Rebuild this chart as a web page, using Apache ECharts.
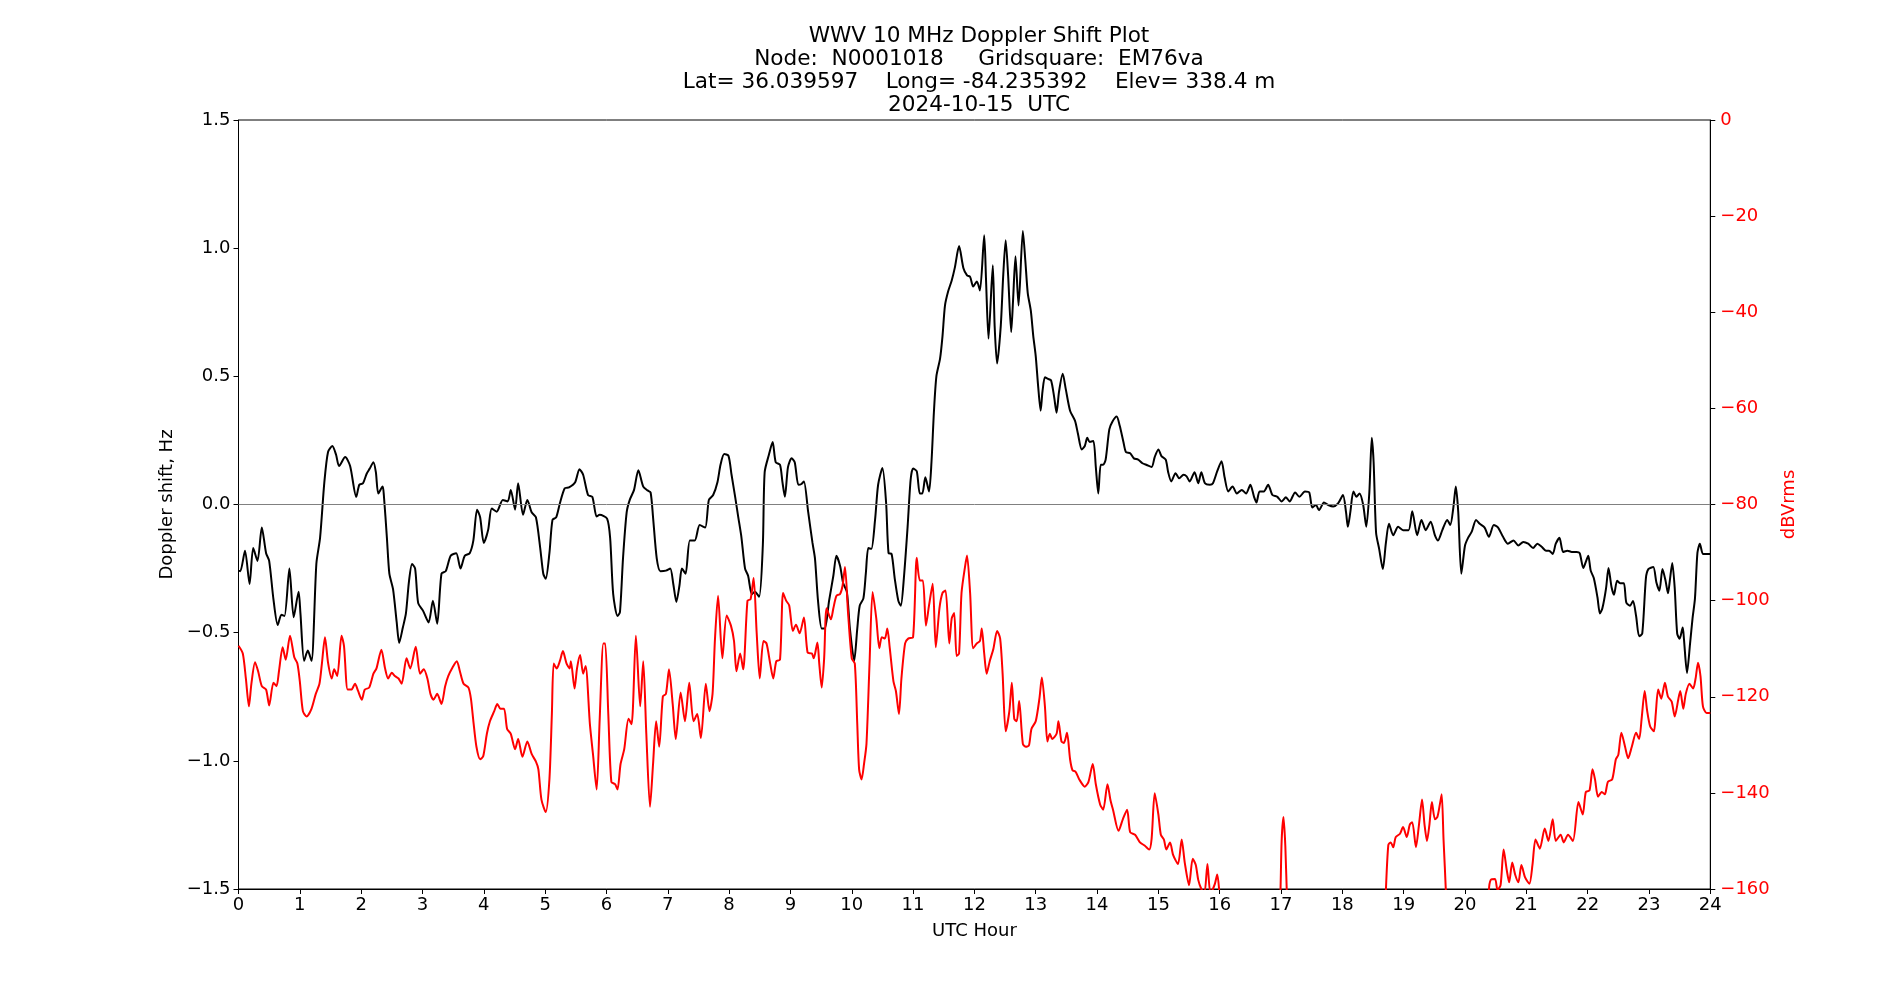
<!DOCTYPE html>
<html>
<head>
<meta charset="utf-8">
<title>WWV 10 MHz Doppler Shift Plot</title>
<script src="https://cdn.jsdelivr.net/npm/echarts@6/dist/echarts.min.js"></script>
<style>
  html, body { margin: 0; padding: 0; background: #fff; }
  #main { width: 1900px; height: 1000px; }
</style>
</head>
<body>
<div id="main"></div>
<script>
// Doppler shift (Hz)
var dopplerHours = [
  0.00,0.03,0.106,0.18,0.24,0.31,0.38,0.45,0.50,0.57,0.64,0.70,0.75,0.83,0.90,0.98,1.01,1.07,1.13,1.19,
  1.27,1.33,1.40,1.46,1.53,1.59,1.64,1.74,1.82,1.92,1.97,2.03,2.09,2.14,2.20,2.24,2.28,2.35,2.37,2.42,
  2.46,2.52,2.58,2.62,2.68,2.73,2.78,2.83,2.88,2.93,3.01,3.10,3.17,3.24,3.31,3.38,3.46,3.55,3.62,3.69,
  3.77,3.83,3.89,3.94,4.00,4.07,4.13,4.21,4.31,4.39,4.44,4.51,4.56,4.64,4.71,4.78,4.85,4.92,4.97,5.01,
  5.07,5.12,5.18,5.24,5.32,5.39,5.49,5.56,5.62,5.70,5.77,5.84,5.89,6.01,6.06,6.11,6.18,6.22,6.27,6.33,
  6.38,6.45,6.52,6.60,6.67,6.72,6.76,6.82,6.88,6.97,7.04,7.09,7.14,7.19,7.23,7.29,7.36,7.44,7.52,7.61,
  7.67,7.74,7.81,7.86,7.92,7.99,8.04,8.10,8.15,8.20,8.26,8.31,8.37,8.42,8.49,8.55,8.58,8.65,8.71,8.76,
  8.83,8.87,8.91,8.96,9.02,9.07,9.13,9.18,9.22,9.29,9.36,9.40,9.45,9.51,9.56,9.63,9.70,9.75,9.81,9.86,
  9.92,9.97,10.04,10.09,10.13,10.19,10.23,10.27,10.32,10.38,10.43,10.50,10.56,10.60,10.65,10.70,10.76,10.80,10.85,10.91,
  10.96,11.00,11.06,11.11,11.15,11.20,11.26,11.30,11.34,11.38,11.44,11.48,11.52,11.57,11.63,11.68,11.75,11.82,11.88,11.93,
  11.98,12.04,12.09,12.16,12.19,12.23,12.30,12.33,12.37,12.43,12.47,12.51,12.55,12.60,12.63,12.67,12.72,12.79,12.83,12.87,
  12.92,12.96,13.00,13.04,13.08,13.11,13.15,13.20,13.25,13.30,13.34,13.38,13.44,13.49,13.56,13.64,13.69,13.75,13.80,13.84,
  13.88,13.94,13.98,14.02,14.06,14.10,14.14,14.20,14.25,14.32,14.37,14.43,14.47,14.54,14.60,14.67,14.74,14.81,14.89,14.94,
  15.00,15.05,15.12,15.16,15.21,15.28,15.34,15.41,15.46,15.51,15.59,15.65,15.70,15.76,15.84,15.89,15.96,16.03,16.08,16.14,
  16.21,16.28,16.36,16.43,16.50,16.56,16.60,16.65,16.72,16.79,16.86,16.94,17.01,17.08,17.14,17.23,17.30,17.39,17.46,17.51,
  17.57,17.62,17.70,17.77,17.85,17.93,18.01,18.06,18.09,18.13,18.18,18.23,18.28,18.34,18.39,18.44,18.48,18.51,18.55,18.60,
  18.66,18.71,18.76,18.83,18.91,18.99,19.08,19.14,19.22,19.29,19.36,19.44,19.51,19.56,19.63,19.71,19.76,19.81,19.85,19.89,
  19.94,20.00,20.05,20.11,20.18,20.24,20.32,20.39,20.47,20.54,20.62,20.70,20.79,20.87,20.95,21.03,21.11,21.18,21.25,21.32,
  21.37,21.43,21.48,21.54,21.60,21.67,21.74,21.82,21.87,21.93,21.97,22.01,22.05,22.10,22.16,22.20,22.24,22.30,22.34,22.39,
  22.43,22.48,22.53,22.59,22.63,22.69,22.74,22.79,22.84,22.89,22.95,22.99,23.07,23.12,23.17,23.22,23.27,23.31,23.34,23.38,
  23.42,23.46,23.50,23.55,23.57,23.62,23.67,23.71,23.75,23.79,23.83,23.88,23.94,24.00
];
var dopplerHz = [
  -0.258,-0.26,-0.18,-0.31,-0.17,-0.22,-0.09,-0.19,-0.22,-0.37,-0.47,-0.43,-0.435,-0.25,-0.44,-0.34,-0.425,-0.61,-0.57,-0.61,
  -0.23,-0.13,0.087,0.205,0.228,0.195,0.15,0.185,0.15,0.03,0.077,0.083,0.12,0.14,0.165,0.126,0.043,0.07,0.037,-0.13,
  -0.27,-0.33,-0.46,-0.54,-0.48,-0.425,-0.30,-0.232,-0.25,-0.385,-0.415,-0.46,-0.375,-0.465,-0.27,-0.26,-0.2,-0.19,-0.25,-0.2,
  -0.19,-0.14,-0.02,-0.05,-0.15,-0.10,-0.016,-0.028,0.018,0.012,0.057,-0.02,0.083,-0.04,0.018,-0.03,-0.05,-0.17,-0.27,-0.29,
  -0.19,-0.06,-0.05,0.004,0.063,0.067,0.087,0.138,0.116,0.037,0.03,-0.047,-0.04,-0.055,-0.13,-0.35,-0.435,-0.42,-0.21,-0.03,
  0.018,0.057,0.134,0.07,0.055,0.047,-0.05,-0.21,-0.26,-0.258,-0.25,-0.31,-0.38,-0.317,-0.25,-0.27,-0.14,-0.14,-0.08,-0.09,
  0.018,0.037,0.087,0.155,0.197,0.19,0.116,0.028,-0.05,-0.126,-0.25,-0.278,-0.35,-0.34,-0.36,-0.16,0.126,0.195,0.244,0.165,
  0.155,0.087,0.03,0.146,0.18,0.165,0.077,0.08,0.09,-0.03,-0.15,-0.21,-0.376,-0.484,-0.484,-0.376,-0.278,-0.2,-0.24,-0.307,
  -0.34,-0.484,-0.61,-0.484,-0.395,-0.366,-0.268,-0.17,-0.173,-0.06,0.077,0.142,0.008,-0.19,-0.193,-0.287,-0.376,-0.395,-0.287,-0.09,
  0.096,0.14,0.13,0.043,0.043,0.106,0.051,0.165,0.362,0.5,0.569,0.657,0.776,0.83,0.874,0.923,1.008,0.923,0.894,0.888,
  0.85,0.87,0.835,1.05,0.874,0.647,0.933,0.697,0.55,0.697,0.894,1.031,0.894,0.673,0.795,0.968,0.776,1.067,0.953,0.825,
  0.756,0.657,0.579,0.46,0.366,0.44,0.496,0.49,0.484,0.42,0.358,0.44,0.51,0.45,0.366,0.327,0.274,0.215,0.228,0.26,
  0.244,0.248,0.146,0.043,0.155,0.155,0.175,0.293,0.323,0.343,0.307,0.244,0.205,0.2,0.18,0.175,0.161,0.154,0.146,0.185,
  0.215,0.189,0.175,0.126,0.09,0.122,0.102,0.116,0.11,0.09,0.126,0.083,0.126,0.083,0.077,0.083,0.13,0.169,0.106,0.051,
  0.07,0.043,0.057,0.043,0.077,0.03,0.008,0.051,0.051,0.077,0.037,0.03,0.012,0.028,0.012,0.047,0.03,0.051,0.047,-0.012,
  -0.002,-0.022,0.008,-0.002,-0.008,0.004,0.037,-0.03,-0.087,-0.03,0.051,0.03,0.043,-0.002,-0.087,0.047,0.26,0.165,-0.11,-0.173,
  -0.252,-0.15,-0.075,-0.12,-0.087,-0.1,-0.1,-0.026,-0.12,-0.06,-0.1,-0.067,-0.12,-0.14,-0.1,-0.06,-0.08,-0.012,0.07,-0.03,
  -0.27,-0.16,-0.13,-0.106,-0.06,-0.075,-0.09,-0.126,-0.08,-0.09,-0.126,-0.153,-0.14,-0.16,-0.146,-0.153,-0.17,-0.153,-0.165,-0.18,
  -0.18,-0.193,-0.153,-0.13,-0.185,-0.18,-0.185,-0.185,-0.19,-0.248,-0.224,-0.2,-0.258,-0.287,-0.362,-0.425,-0.405,-0.327,-0.248,-0.323,
  -0.352,-0.297,-0.307,-0.307,-0.382,-0.395,-0.376,-0.435,-0.514,-0.504,-0.287,-0.252,-0.244,-0.303,-0.336,-0.252,-0.297,-0.346,-0.297,-0.228,
  -0.327,-0.504,-0.524,-0.48,-0.524,-0.657,-0.543,-0.445,-0.366,-0.189,-0.153,-0.193,-0.193,-0.193
];

// Signal level (dBVrms); values under -160 fall off the axis
var levelHours = [
  0.00,0.07,0.12,0.17,0.21,0.27,0.32,0.38,0.45,0.50,0.57,0.62,0.66,0.72,0.77,0.84,0.91,0.96,1.00,1.05,
  1.11,1.19,1.26,1.32,1.36,1.41,1.46,1.52,1.56,1.61,1.68,1.72,1.78,1.84,1.90,1.95,2.01,2.06,2.13,2.20,
  2.25,2.33,2.39,2.44,2.50,2.55,2.61,2.66,2.74,2.80,2.89,2.96,3.02,3.08,3.13,3.18,3.24,3.31,3.37,3.42,
  3.49,3.56,3.61,3.67,3.75,3.79,3.83,3.88,3.94,3.99,4.05,4.10,4.17,4.22,4.27,4.33,4.38,4.44,4.51,4.56,
  4.63,4.71,4.78,4.85,4.89,4.94,5.01,5.07,5.11,5.14,5.19,5.24,5.29,5.35,5.40,5.42,5.48,5.52,5.57,5.62,
  5.66,5.73,5.78,5.84,5.89,5.95,5.98,6.03,6.08,6.14,6.18,6.23,6.29,6.36,6.41,6.48,6.55,6.60,6.65,6.71,
  6.76,6.81,6.86,6.92,6.97,7.02,7.08,7.13,7.21,7.28,7.35,7.42,7.48,7.54,7.62,7.68,7.73,7.77,7.82,7.89,
  7.96,8.03,8.08,8.12,8.18,8.23,8.30,8.35,8.40,8.45,8.50,8.56,8.61,8.67,8.72,8.77,8.83,8.88,8.93,8.98,
  9.04,9.09,9.15,9.22,9.28,9.35,9.38,9.44,9.47,9.51,9.55,9.59,9.66,9.70,9.75,9.81,9.85,9.89,9.94,10.00,
  10.05,10.09,10.12,10.16,10.20,10.24,10.29,10.34,10.40,10.45,10.49,10.54,10.58,10.62,10.68,10.72,10.77,10.81,10.87,10.92,
  11.00,11.06,11.11,11.16,11.21,11.26,11.32,11.37,11.43,11.48,11.53,11.59,11.63,11.67,11.71,11.75,11.79,11.85,11.88,11.93,
  11.98,12.04,12.09,12.12,12.16,12.20,12.25,12.31,12.37,12.42,12.46,12.51,12.57,12.61,12.65,12.69,12.73,12.79,12.84,12.89,
  12.93,13.00,13.06,13.10,13.15,13.19,13.23,13.27,13.34,13.37,13.42,13.46,13.51,13.56,13.60,13.65,13.71,13.80,13.86,13.93,
  13.98,14.05,14.10,14.17,14.22,14.26,14.35,14.42,14.49,14.54,14.62,14.70,14.78,14.85,14.89,14.94,15.00,15.04,15.09,15.13,
  15.19,15.24,15.32,15.38,15.43,15.50,15.56,15.61,15.65,15.70,15.75,15.80,15.85,15.92,15.96,15.99,16.03,16.08,16.90,16.98,
  17.01,17.04,17.07,17.10,17.15,18.65,18.71,18.75,18.79,18.83,18.87,18.94,18.99,19.05,19.10,19.14,19.20,19.25,19.30,19.34,
  19.38,19.42,19.46,19.51,19.55,19.59,19.62,19.65,19.69,19.73,20.34,20.39,20.42,20.49,20.53,20.58,20.63,20.68,20.72,20.77,
  20.82,20.87,20.92,20.98,21.05,21.10,21.15,21.22,21.30,21.36,21.43,21.48,21.56,21.61,21.68,21.76,21.85,21.92,21.97,22.03,
  22.08,22.12,22.17,22.23,22.28,22.33,22.40,22.46,22.50,22.55,22.61,22.66,22.72,22.79,22.84,22.88,22.93,22.97,23.02,23.08,
  23.11,23.15,23.20,23.26,23.31,23.37,23.42,23.48,23.51,23.56,23.60,23.66,23.72,23.76,23.80,23.84,23.88,23.94,24.00
];
var levelDb = [
  -109.4,-111,-116.2,-122,-117.3,-112.8,-114.7,-117.8,-118.5,-121.8,-117.1,-117.8,-114.7,-109.7,-112.3,-107.3,-111.8,-113.1,-116.8,-123,
  -124.1,-122.5,-119.4,-117.3,-113.1,-107.6,-112.9,-116.2,-114.3,-115.7,-107.3,-109.4,-118.5,-118.5,-117.3,-118.8,-120.6,-118.5,-118.1,-115.2,
  -114.1,-110.2,-114.1,-116.2,-115,-115.7,-116.2,-117.3,-112,-114.1,-109.6,-115.2,-114.3,-116.2,-119.4,-120.6,-119.4,-121.5,-117.8,-115.7,
  -113.9,-112.6,-114.7,-117.3,-118.1,-120.4,-125.1,-130.4,-133,-132.4,-127.7,-125.1,-123,-121.5,-122.5,-122.5,-126.7,-127.7,-130.9,-128.8,
  -132.5,-129.3,-131.9,-133.5,-135.1,-141.4,-144,-137.2,-123.6,-113.1,-114.1,-112.6,-110.5,-113.1,-114.1,-112.6,-118.3,-114.1,-111.3,-115.2,
  -113.6,-125.7,-131.9,-139.3,-124.6,-108.9,-108.9,-123.6,-137.7,-138.2,-139.3,-134,-130.9,-124.6,-125.7,-107.3,-122,-112.6,-127.7,-142.9,
  -134,-125.1,-130.4,-119.9,-119.4,-114.3,-121.5,-128.8,-119.1,-125.1,-117.1,-125.1,-123.6,-128.6,-117.3,-123,-119.4,-107.9,-99,-112,
  -103.1,-105.2,-108.4,-114.7,-111,-114.3,-100,-99.7,-95.3,-106.8,-116.2,-108.4,-108.9,-113.1,-116.2,-112.6,-112.3,-98.4,-100,-101,
  -106.3,-105,-106.8,-103.5,-110.8,-111,-112,-108.7,-113.1,-118.1,-112,-101.6,-103.9,-101.6,-99,-98.6,-96.9,-93,-102.6,-112,
  -113.1,-125.7,-135.1,-137.2,-134,-129.8,-113.1,-98.2,-103.7,-109.9,-107.6,-107.9,-105.8,-109.9,-116.8,-118.8,-123.6,-116.2,-108.9,-107.9,
  -107.6,-91.1,-95.8,-95.8,-105.2,-101,-96.5,-109.7,-101.6,-98.4,-97.9,-108.9,-103.7,-102.6,-111.5,-111,-98.4,-92.7,-90.6,-98.4,
  -109.9,-108.9,-108.4,-105.8,-111,-115.2,-112.6,-110,-106.3,-107.9,-115.2,-127.2,-123,-117.1,-124.6,-125.1,-120.9,-129.8,-130.4,-130.1,
  -126.7,-125.1,-120.4,-116,-122,-129.3,-127.7,-128.8,-127.7,-125.1,-129.3,-129.6,-127.5,-133,-135.3,-135.6,-137.2,-138.7,-137.7,-134,
  -138.2,-142.4,-143.5,-138.2,-141.6,-143.5,-147.9,-145.5,-143.5,-148.2,-148.7,-150.3,-151,-151.8,-149.5,-140.1,-144.5,-148.7,-149.7,-151.8,
  -150.3,-152.9,-154.8,-149.7,-154.5,-159.2,-153.7,-155,-158.1,-160,-161,-154.8,-161,-159,-157,-160,-168,-178,-178,-165,
  -150,-145,-151,-163,-178,-178,-160.2,-150.8,-150.3,-151.3,-149.2,-148.5,-147.1,-149.2,-146.6,-146.1,-151.3,-146.6,-141.4,-146.6,
  -150,-146.6,-141.9,-145.5,-145,-142.4,-140.3,-149.7,-161,-178,-178,-160.2,-158.1,-157.9,-160.2,-159.2,-151.8,-156,-158.6,-154.5,
  -157.1,-158.6,-155,-157.6,-158.9,-155,-149.7,-151.6,-147.4,-150,-145.5,-150,-148.7,-150.3,-148.7,-150,-141.9,-144.5,-139.8,-139.5,
  -135.1,-137.2,-140.8,-139.8,-140.3,-137.7,-137.2,-133,-132.1,-127.5,-130.4,-132.8,-130.4,-127.5,-128.8,-124.6,-118.8,-122.9,-126.2,-127.2,
  -123.6,-118.5,-120.4,-117.1,-120,-121,-124.1,-120.4,-118.8,-122.5,-119.4,-117.3,-118.3,-116.2,-112.9,-115.7,-122,-123.4,-123.4
];

var hourTicks = [0, 24, 1];
var dopplerTicks = [-1.5, 1.5, 0.5];
var levelTicks = [-160, 0, 20];

var titleLines = [
  'WWV 10 MHz Doppler Shift Plot',
  'Node:  N0001018     Gridsquare:  EM76va',
  'Lat= 36.039597    Long= -84.235392    Elev= 338.4 m',
  '2024-10-15  UTC'
];

function pairUp(xs, ys) {
  var out = [];
  for (var i = 0; i < xs.length; i++) {
    out.push([xs[i], ys[i]]);
  }
  return out;
}

function mplMinus(v, digits) {
  var s = digits > 0 ? v.toFixed(digits) : String(Math.round(v));
  return s.replace('-', '\u2212');
}

var FONT = 'DejaVu Sans';
var BASE = 18;
var myChart = echarts.init(document.getElementById('main'));
var option = {
  animation: false,
  backgroundColor: '#ffffff',
  textStyle: { fontFamily: FONT },
  title: {
    text: titleLines.join('\n'),
    left: 974,
    top: 20,
    textAlign: 'center',
    textStyle: {
      fontFamily: FONT,
      fontSize: 21.6,
      lineHeight: 23,
      fontWeight: 'normal',
      color: '#000'
    }
  },
  grid: {
    left: 238.5,
    right: 189.7,
    top: 120,
    bottom: 111,
    show: true,
    borderColor: '#000',
    borderWidth: 1,
    backgroundColor: 'transparent'
  },
  xAxis: {
    type: 'value',
    min: hourTicks[0],
    max: hourTicks[1],
    interval: hourTicks[2],
    name: 'UTC Hour',
    nameLocation: 'middle',
    nameGap: 33,
    nameTextStyle: { fontFamily: FONT, fontSize: BASE, color: '#000' },
    axisLine: { onZero: false, lineStyle: { color: '#000', width: 1 } },
    axisTick: { show: true, inside: false, length: 5, lineStyle: { color: '#000' } },
    axisLabel: { fontFamily: FONT, fontSize: BASE, color: '#000', margin: 7 },
    splitLine: { show: false }
  },
  yAxis: [
    {
      type: 'value',
      position: 'left',
      min: dopplerTicks[0],
      max: dopplerTicks[1],
      interval: dopplerTicks[2],
      name: 'Doppler shift, Hz',
      nameLocation: 'middle',
      nameRotate: 90,
      nameGap: 61,
      nameTextStyle: { fontFamily: FONT, fontSize: BASE, color: '#000' },
      axisLine: { show: true, onZero: false, lineStyle: { color: '#000', width: 1 } },
      axisTick: { show: true, inside: false, length: 5, lineStyle: { color: '#000' } },
      axisLabel: {
        fontFamily: FONT, fontSize: BASE, color: '#000', margin: 8,
        formatter: function (v) { return mplMinus(v, 1); }
      },
      splitLine: { show: false }
    },
    {
      type: 'value',
      position: 'right',
      min: levelTicks[0],
      max: levelTicks[1],
      interval: levelTicks[2],
      name: 'dBVrms',
      nameLocation: 'middle',
      nameRotate: 90,
      nameGap: 59,
      nameTextStyle: { fontFamily: FONT, fontSize: BASE, color: '#ff0000' },
      axisLine: { show: true, onZero: false, lineStyle: { color: '#000', width: 1 } },
      axisTick: { show: true, inside: false, length: 5, lineStyle: { color: '#000' } },
      axisLabel: {
        fontFamily: FONT, fontSize: BASE, color: '#ff0000', margin: 10,
        formatter: function (v) { return mplMinus(v, 0); }
      },
      splitLine: { show: false }
    }
  ],
  series: [
    {
      name: 'Doppler',
      type: 'line',
      xAxisIndex: 0,
      yAxisIndex: 0,
      data: pairUp(dopplerHours, dopplerHz),
      showSymbol: false,
      smooth: 0.25,
      clip: true,
      lineStyle: { color: '#000', width: 2 },
      markLine: {
        silent: true,
        symbol: ['none', 'none'],
        label: { show: false },
        lineStyle: { color: '#808080', width: 1, type: 'solid' },
        data: [{ yAxis: 0 }]
      }
    },
    {
      name: 'Level',
      type: 'line',
      xAxisIndex: 0,
      yAxisIndex: 1,
      data: pairUp(levelHours, levelDb),
      showSymbol: false,
      smooth: 0.25,
      clip: true,
      lineStyle: { color: '#ff0000', width: 2 }
    }
  ]
};
myChart.setOption(option);
</script>
</body>
</html>
